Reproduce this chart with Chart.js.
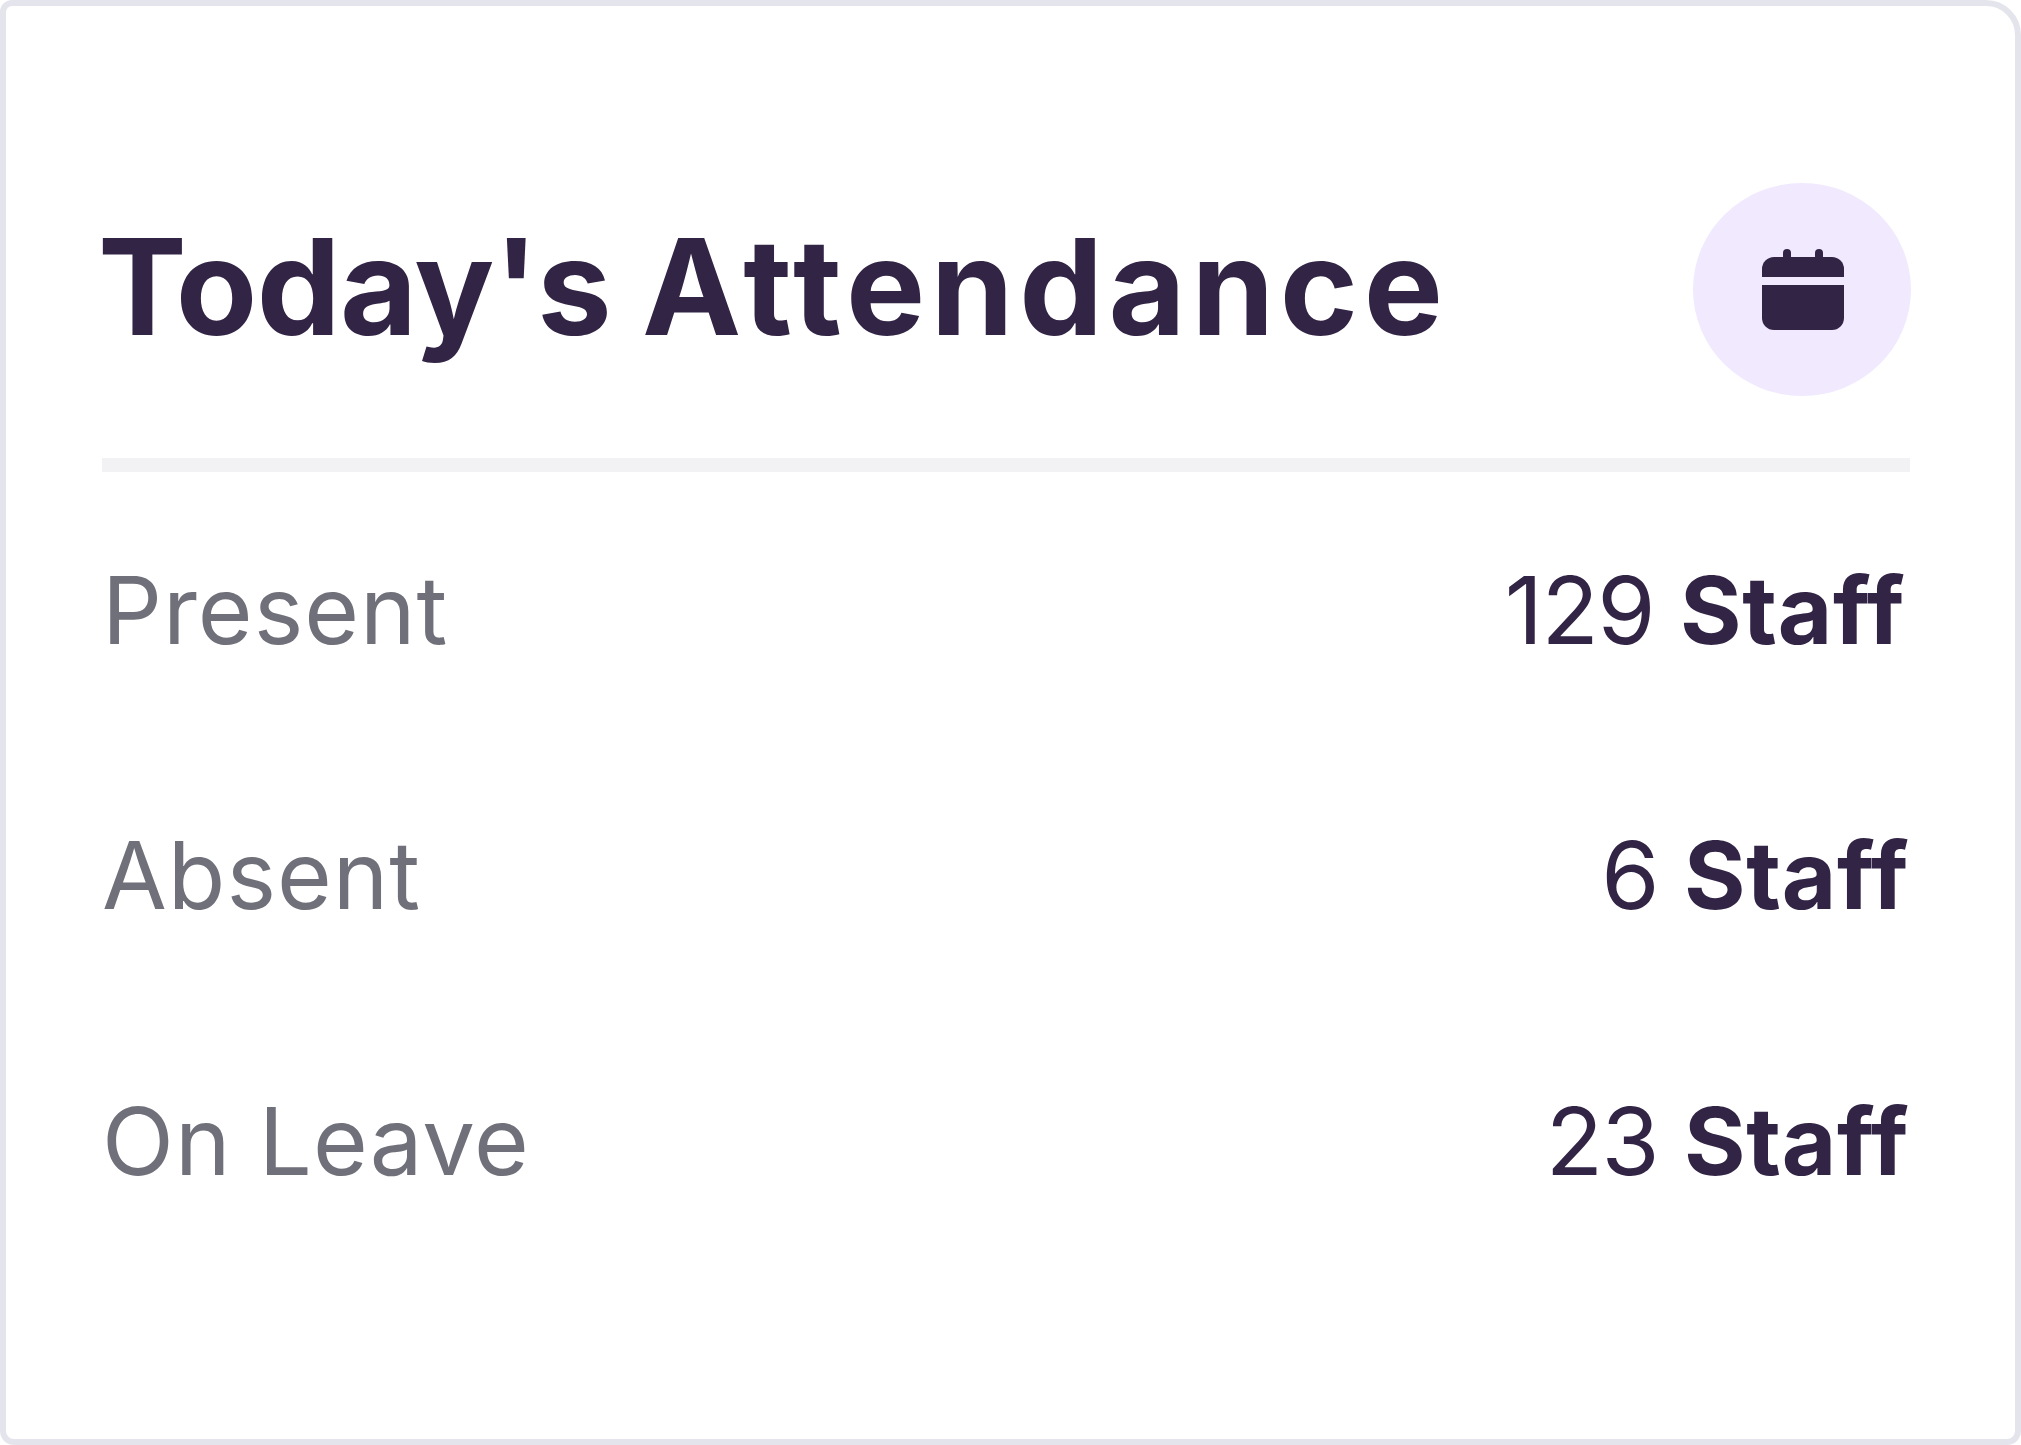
<!DOCTYPE html>
<html>
<head>
<meta charset="utf-8">
<title>Today's Attendance</title>
<script src="https://cdn.jsdelivr.net/npm/chart.js@4"></script>
<style>
  html, body { margin: 0; padding: 0; background: #fff; }
  #card {
    position: absolute; left: 0; top: 0; width: 2021px; height: 1445px;
    box-sizing: border-box; border: 6px solid #e4e4ec; border-radius: 12px 35px 14px 14px; overflow: hidden;
  }
  #titulo {
    position: absolute; left: 92px; top: 201px; margin: 0;
    font: 700 133px Inter, sans-serif; color: #322445; white-space: nowrap; line-height: 160px;
    letter-spacing: -0.6px;
  }
  #titulo span { letter-spacing: 5.6px; }
  #circulo {
    position: absolute; left: 1687px; top: 177px; width: 218px; height: 213px;
    border-radius: 50%; background: #f1e9fe;
  }
  #circulo svg { position: absolute; left: 69px; top: 66px; }
  #linea { position: absolute; left: 96px; top: 452px; width: 1808px; height: 14px; background: #f2f2f4; }
  #contenedor { position: absolute; left: 88px; top: 420px; width: 1815px; height: 910px; }
</style>
</head>
<body>
<div id="card">
  <h1 id="titulo">Today's <span>Attendance</span></h1>
  <div id="circulo">
    <svg width="82" height="82" viewBox="0 0 82 82" fill="#322445">
      <rect x="21" y="0" width="8" height="14" rx="4"/>
      <rect x="53" y="0" width="8" height="14" rx="4"/>
      <path d="M12 8H70A12 12 0 0 1 82 20V28H0V20A12 12 0 0 1 12 8Z"/>
      <path d="M0 36H82V69A12 12 0 0 1 70 81H12A12 12 0 0 1 0 69Z"/>
    </svg>
  </div>
  <div id="linea"></div>
  <div id="contenedor"><canvas id="grAsistencia"></canvas></div>
</div>
<script>
const categorias = ['Present', 'Absent', 'On Leave'];
const personal = [129, 6, 23];
const unidad = 'Staff';

const colorTexto = '#322445';
const colorEtiqueta = '#70707a';

// Chart.js has no mixed-weight tick label, so the value column is drawn here
const columnaValores = {
    id: 'columnaValores',
    beforeDraw(chart) {
        // picked up by the y axis labels
        chart.ctx.letterSpacing = '1px';
    },
    afterDraw(chart) {
        const ctx = chart.ctx;
        const ejeY = chart.scales.y;
        ctx.save();
        ctx.textBaseline = 'middle';
        ctx.textAlign = 'left';
        ctx.fillStyle = colorTexto;
        chart.data.datasets[0].data.forEach((valor, i) => {
            const y = ejeY.getPixelForValue(i);
            // first row sits a little further left in the original
            const derecha = chart.chartArea.right - (i === 0 ? 4 : 0);
            const numero = String(valor);

            ctx.font = '700 94px Inter';
            ctx.letterSpacing = '0.6px';
            const anchoUnidad = ctx.measureText(unidad).width;
            ctx.fillText(unidad, derecha - anchoUnidad, y);

            ctx.font = '400 94px Inter';
            ctx.letterSpacing = '-1.5px';
            const anchoNumero = ctx.measureText(numero).width;
            ctx.fillText(numero, derecha - anchoUnidad - 26 - anchoNumero, y);
        });
        ctx.restore();
    }
};

new Chart(document.getElementById('grAsistencia'), {
    type: 'bar',
    data: {
        labels: categorias,
        datasets: [{
            label: unidad,
            data: personal,
            backgroundColor: 'rgba(0, 0, 0, 0)',
            borderWidth: 0
        }]
    },
    options: {
        indexAxis: 'y',
        responsive: true,
        maintainAspectRatio: false,
        animation: false,
        events: [],
        layout: { padding: 0 },
        plugins: {
            legend: { display: false },
            tooltip: { enabled: false }
        },
        scales: {
            x: { display: false, beginAtZero: true },
            y: {
                position: 'left',
                grid: { display: false },
                border: { display: false },
                ticks: {
                    mirror: true,
                    padding: 0,
                    color: colorEtiqueta,
                    font: { family: 'Inter', size: 94, weight: '400' }
                }
            }
        }
    },
    plugins: [columnaValores]
});
</script>
</body>
</html>
